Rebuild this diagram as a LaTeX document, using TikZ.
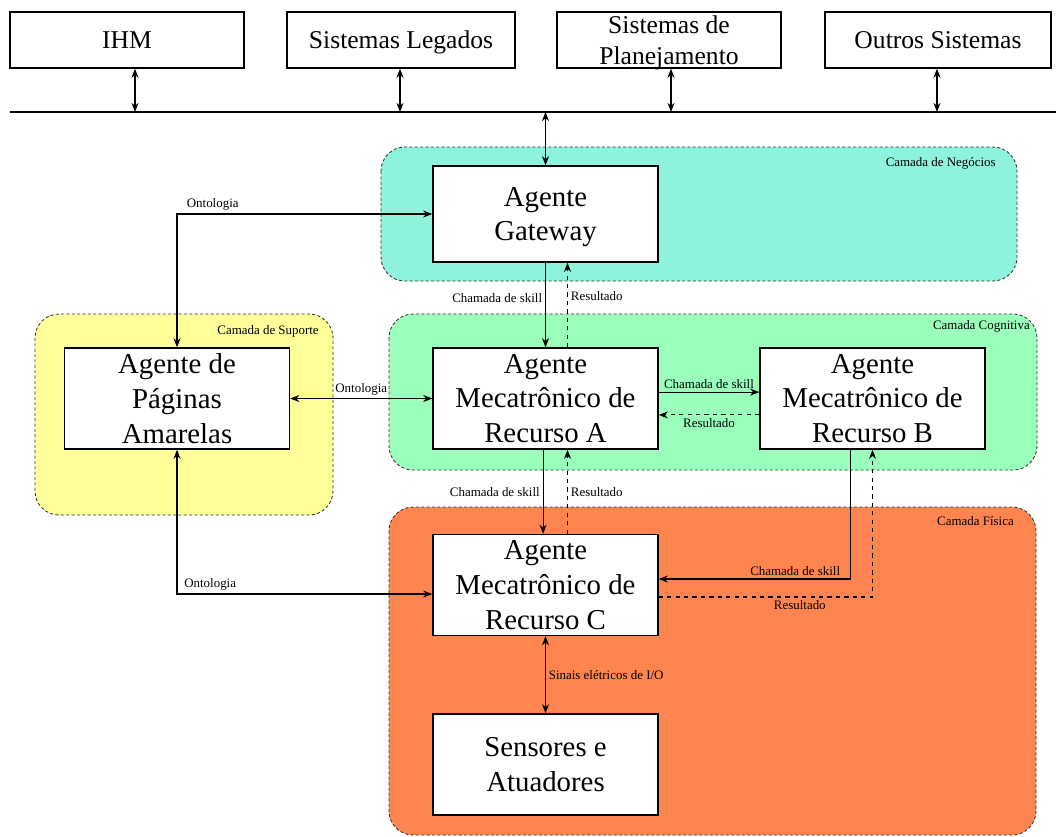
\documentclass[tikz,border=0pt]{standalone}
\usepackage{fontspec}
\setmainfont{Liberation Serif}
\usepackage{xcolor}
\usepackage{tikz}
\usetikzlibrary{calc,arrows.meta,positioning}

\definecolor{negocios}{RGB}{142,242,221}
\definecolor{suporte}{RGB}{255,255,153}
\definecolor{cognitiva}{RGB}{153,255,187}
\definecolor{fisica}{RGB}{255,133,80}

\newcommand{\agtext}{\fontsize{20.5}{24.8}\selectfont}
\newcommand{\systext}{\fontsize{18.2}{22}\selectfont}
\newcommand{\lbltext}{\fontsize{9.2}{11}\selectfont}

\begin{document}
\begin{tikzpicture}[x=0.025cm, y=-0.025cm, >={Stealth[length=6.5pt,width=5pt]},
    agent/.style={draw, line width=1pt, fill=white, align=center, minimum width=5.625cm,
                  minimum height=2.525cm, inner sep=1pt, font=\agtext},
    sys/.style={draw, line width=1pt, fill=white, align=center, minimum width=5.7cm,
                minimum height=1.4cm, inner sep=0pt, text depth=0pt, font=\systext},
    layer/.style={draw=black!80, dash pattern=on 2.2pt off 1.6pt, line width=0.6pt,
                  rounded corners=0.6cm},
    con/.style={line width=0.8pt},
    lbl/.style={font=\lbltext, inner sep=2pt},
    lyr/.style={font=\lbltext, anchor=east, inner sep=0pt}]
    \useasboundingbox (0,0) rectangle (1056,836);

    % camadas
    \draw[layer, fill=negocios] (381,147) rectangle (1017,281);
    \draw[layer, fill=suporte] (35,314) rectangle (333,515);
    \draw[layer, fill=cognitiva] (389,314) rectangle (1037,470);
    \draw[layer, fill=fisica] (389,507) rectangle (1036,835);
    \node[lyr] (lneg) at (996,163) {Camada de Negócios};
    \node[lyr] (lsup) at (319,331) {Camada de Suporte};
    \node[lyr] (lcog) at (1030,326) {Camada Cognitiva};
    \node[lyr] (lfis) at (1014,521) {Camada Física};

    % sistemas externos e barramento
    \node[sys, minimum width=5.85cm] (ihm) at (127,40) {IHM};
    \node[sys] (leg) at (401,40) {Sistemas Legados};
    \node[sys, minimum width=5.6cm] (plan) at (669,40) {Sistemas de\\Planejamento};
    \node[sys, minimum width=5.65cm] (out) at (938,40) {Outros Sistemas};
    \coordinate (busL) at (10,112);
    \coordinate (busR) at (1056,112);
    \draw[con] (busL) -- (busR);
    \foreach \s/\dx in {ihm/8,leg/-1,plan/2,out/-1}
        \draw[con,<->] ([xshift=\dx*0.025cm]\s.south) -- ([xshift=\dx*0.025cm]\s.south |- busL);

    % agentes
    \node[agent, minimum height=2.4cm, text depth=0pt] (gw) at (545.5,214) {Agente\\Gateway};
    \node[agent] (pa) at (177,398.5) {Agente de\\Páginas\\Amarelas};
    \node[agent] (ra) at (545.5,398.5) {Agente\\Mecatrônico de\\Recurso A};
    \node[agent] (rb) at (872.5,398.5) {Agente\\Mecatrônico de\\Recurso B};
    \node[agent] (rc) at (545.5,585) {Agente\\Mecatrônico de\\Recurso C};
    \node[agent] (sa) at (545.5,764.5) {Sensores e\\Atuadores};

    \draw[con,<->] (gw.north |- busL) -- (gw.north);

    % ontologia
    \draw[con,<->] (pa.north) |- (gw.west) node[lbl, pos=0.57, above] {Ontologia};
    \draw[con,<->] (pa.east) -- (ra.west) node[lbl, midway, above] {Ontologia};
    \draw[con,<->] (pa.south) |- ([yshift=-0.225cm]rc.west) node[lbl, pos=0.565, above] {Ontologia};

    % chamadas de skill e resultados
    \draw[con,->] (gw.south) -- (ra.north) node[lbl, pos=0.42, left] {Chamada de skill};
    \draw[con,dashed,->] ([xshift=0.55cm]ra.north) -- ([xshift=0.55cm]gw.south) node[lbl, pos=0.6, right] {Resultado};
    \draw[con,->] ([yshift=0.16cm]ra.east) -- ([yshift=0.16cm]rb.west) node[lbl, midway, above] {Chamada de skill};
    \draw[con,dashed,->] ([yshift=-0.41cm]rb.west) -- ([yshift=-0.41cm]ra.east) node[lbl, midway, below] {Resultado};
    \draw[con,->] ([xshift=-0.06cm]ra.south) -- ([xshift=-0.06cm]rc.north) node[lbl, midway, left] {Chamada de skill};
    \draw[con,dashed,->] ([xshift=0.55cm]rc.north) -- ([xshift=0.55cm]ra.south) node[lbl, midway, right] {Resultado};
    \draw[con,->] ([xshift=-0.54cm]rb.south) |- ([yshift=0.15cm]rc.east) node[lbl, pos=0.645, above] {Chamada de skill};
    \draw[con,dashed,->] ([yshift=-0.3cm]rc.east) -| (rb.south) node[lbl, pos=0.33, below] {Resultado};
    \draw[con,<->] (rc.south) -- (sa.north) node[lbl, midway, right] {Sinais elétricos de I/O};
\end{tikzpicture}
\end{document}
